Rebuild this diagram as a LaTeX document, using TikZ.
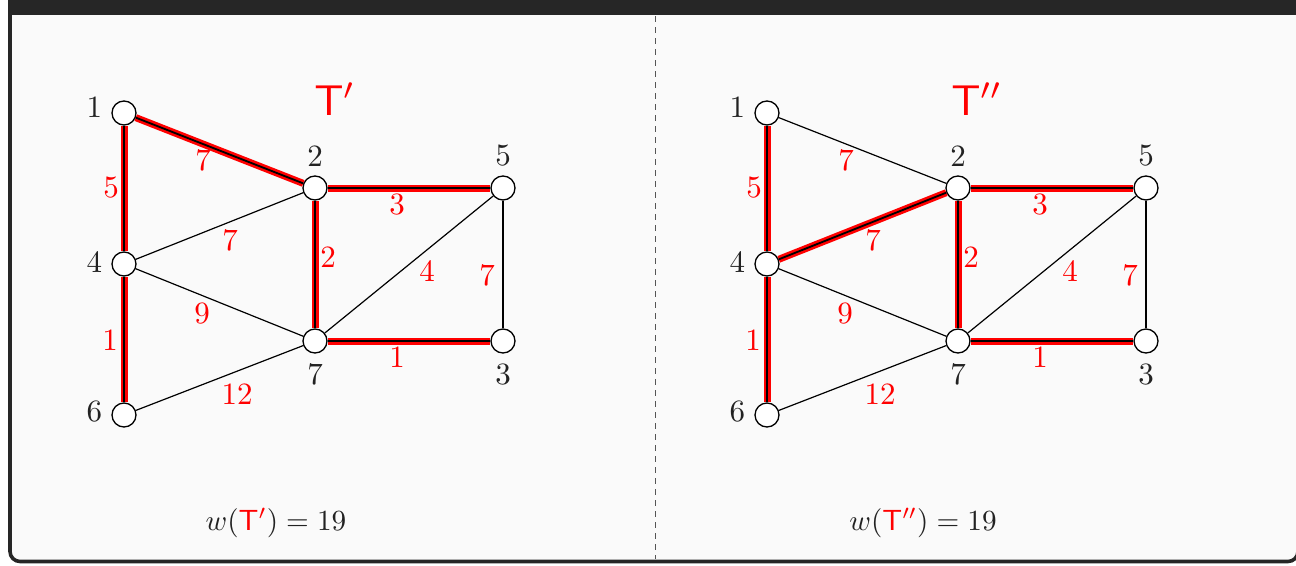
\documentclass[tikz,border=0pt]{standalone}
\usepackage{graphicx}
\usepackage{xcolor}
\definecolor{framecol}{HTML}{262626}
\definecolor{bgcol}{HTML}{FAFAFA}
\definecolor{txt}{HTML}{222222}
\definecolor{dashcol}{HTML}{555555}
\newcommand\sbx[1]{\scalebox{3.1}{#1}}
\begin{document}
\begin{tikzpicture}[x=1pt,y=-1pt,
 vtx/.style={circle,draw=black,fill=white,line width=1.3pt,minimum size=24pt,inner sep=0pt},
 nlab/.style={font=\normalsize, text=txt, inner sep=0pt},
 wlab/.style={font=\normalsize, text=red, inner sep=0pt},
 plainedge/.style={draw=black,line width=1.2pt},
 treeedge/.style={draw=red,double=black,line width=2.6pt,double distance=1.8pt},
 ttl/.style={font=\normalsize, text=red, inner sep=0pt},
 wtext/.style={font=\normalsize, text=txt, inner sep=0pt},
]
\useasboundingbox (0,0) rectangle (1296,565);
% frame
\draw[line width=3.6pt, draw=framecol, fill=bgcol, rounded corners=10pt] (10,-20) rectangle (1298,561.5);
\fill[framecol] (8,-5) rectangle (1300,15);
\draw[dashcol, line width=0.9pt, dash pattern=on 6pt off 5pt] (655,16) coordinate (dtop) -- (655,559) coordinate (dbot);

% ---------- left graph ----------
\node[vtx,label={[nlab,label distance=9pt,yshift=6pt]left:\sbx{1}}] (a1) at (124,113) {};
\node[vtx,label={[nlab,label distance=9pt]above:\sbx{2}}] (a2) at (315,188) {};
\node[vtx,label={[nlab,label distance=9pt]above:\sbx{5}}] (a5) at (503,188) {};
\node[vtx,label={[nlab,label distance=9pt,yshift=2pt]left:\sbx{4}}] (a4) at (124,264) {};
\node[vtx,label={[nlab,label distance=10pt]below:\sbx{7}}] (a7) at (315,341) {};
\node[vtx,label={[nlab,label distance=10pt]below:\sbx{3}}] (a3) at (503,341) {};
\node[vtx,label={[nlab,label distance=9pt,yshift=3pt]left:\sbx{6}}] (a6) at (124,415) {};

\draw[treeedge] (a1) -- (a2);
\draw[treeedge] (a1) -- (a4);
\draw[treeedge] (a2) -- (a5);
\draw[plainedge] (a4) -- (a2);
\draw[treeedge] (a2) -- (a7);
\draw[plainedge] (a7) -- (a5);
\draw[plainedge] (a5) -- (a3);
\draw[plainedge] (a4) -- (a7);
\draw[treeedge] (a4) -- (a6);
\draw[treeedge] (a7) -- (a3);
\draw[plainedge] (a6) -- (a7);

\node[wlab] (la12) at (203,160) {\sbx{7}};
\node[wlab] (la14) at (111,188) {\sbx{5}};
\node[wlab] (la25) at (397,205) {\sbx{3}};
\node[wlab] (la42) at (230,240) {\sbx{7}};
\node[wlab] (la27) at (328,257) {\sbx{2}};
\node[wlab] (la75) at (427,271) {\sbx{4}};
\node[wlab] (la53) at (487,275) {\sbx{7}};
\node[wlab] (la47) at (202,314) {\sbx{9}};
\node[wlab] (la46) at (110,340) {\sbx{1}};
\node[wlab] (la73) at (397,357) {\sbx{1}};
\node[wlab] (la67) at (237,394) {\sbx{12}};

\node[ttl] (ta) at (335,99) {\scalebox{4.3}{$\mathsf{T}'$}};
\node[wtext] (wa) at (276,523) {\scalebox{2.92}{$w(\textcolor{red}{\mathsf{T}'}) = 19$}};

% ---------- right graph ----------
\begin{scope}[xshift=643pt]
\node[vtx,label={[nlab,label distance=9pt,yshift=6pt]left:\sbx{1}}] (b1) at (124,113) {};
\node[vtx,label={[nlab,label distance=9pt]above:\sbx{2}}] (b2) at (315,188) {};
\node[vtx,label={[nlab,label distance=9pt]above:\sbx{5}}] (b5) at (503,188) {};
\node[vtx,label={[nlab,label distance=9pt,yshift=2pt]left:\sbx{4}}] (b4) at (124,264) {};
\node[vtx,label={[nlab,label distance=10pt]below:\sbx{7}}] (b7) at (315,341) {};
\node[vtx,label={[nlab,label distance=10pt]below:\sbx{3}}] (b3) at (503,341) {};
\node[vtx,label={[nlab,label distance=9pt,yshift=3pt]left:\sbx{6}}] (b6) at (124,415) {};

\draw[plainedge] (b1) -- (b2);
\draw[treeedge] (b1) -- (b4);
\draw[treeedge] (b2) -- (b5);
\draw[treeedge] (b4) -- (b2);
\draw[treeedge] (b2) -- (b7);
\draw[plainedge] (b7) -- (b5);
\draw[plainedge] (b5) -- (b3);
\draw[plainedge] (b4) -- (b7);
\draw[treeedge] (b4) -- (b6);
\draw[treeedge] (b7) -- (b3);
\draw[plainedge] (b6) -- (b7);

\node[wlab] (lb12) at (203,160) {\sbx{7}};
\node[wlab] (lb14) at (111,188) {\sbx{5}};
\node[wlab] (lb25) at (397,205) {\sbx{3}};
\node[wlab] (lb42) at (230,240) {\sbx{7}};
\node[wlab] (lb27) at (328,257) {\sbx{2}};
\node[wlab] (lb75) at (427,271) {\sbx{4}};
\node[wlab] (lb53) at (487,275) {\sbx{7}};
\node[wlab] (lb47) at (202,314) {\sbx{9}};
\node[wlab] (lb46) at (110,340) {\sbx{1}};
\node[wlab] (lb73) at (397,357) {\sbx{1}};
\node[wlab] (lb67) at (237,394) {\sbx{12}};

\node[ttl] (tb) at (334,99) {\scalebox{4.3}{$\mathsf{T}''$}};
\node[wtext] (wb) at (280,523) {\scalebox{2.92}{$w(\textcolor{red}{\mathsf{T}''}) = 19$}};
\end{scope}
\end{tikzpicture}
\end{document}
